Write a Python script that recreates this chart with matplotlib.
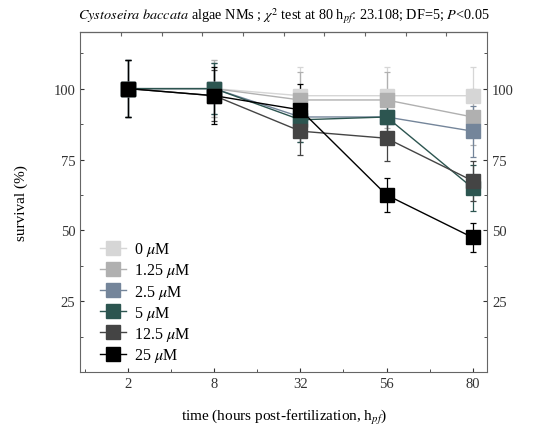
import matplotlib
matplotlib.use('Agg')
import matplotlib.pyplot as plt
from matplotlib.ticker import MultipleLocator
from matplotlib.lines import Line2D

plt.rcParams['font.family'] = ['Liberation Serif', 'DejaVu Serif']
plt.rcParams['mathtext.fontset'] = 'stix'

hours = ['2', '8', '32', '56', '80']
doses = ['0', '1.25', '2.5', '5', '12.5', '25']
colors = ['#d6d6d6', '#b0b0b0', '#74859a', '#2c5550', '#444444', '#000000']

surv_0 = [100, 100, 97.5, 97.5, 97.5]
surv_125 = [100, 100, 96, 96, 90]
surv_25 = [100, 100, 90, 90, 85]
surv_5 = [100, 100, 89, 90, 65]
surv_125b = [100, 97.5, 85, 82.5, 67.5]
surv_25b = [100, 97.5, 92.5, 62.5, 47.5]
survival = [surv_0, surv_125, surv_25, surv_5, surv_125b, surv_25b]

err_0 = [10, 10, 10, 10, 10]
err_125 = [10, 10, 10, 10, 10]
err_25 = [10, 9, 9, 9, 9]
err_5 = [10, 9, 8, 9, 8]
err_125b = [10, 9, 8.5, 8, 7]
err_25b = [10, 10, 9, 6, 5]
errors = [err_0, err_125, err_25, err_5, err_125b, err_25b]

fig = plt.figure(figsize=(5.53, 4.39), dpi=100)
ax = fig.add_axes([0.145, 0.150, 0.736, 0.775])

x = list(range(len(hours)))
handles = []
for d, c, s, e in zip(doses, colors, survival, errors):
    ax.errorbar(x, s, yerr=e, color=c, marker='s', markersize=10,
                linewidth=1.0, elinewidth=0.9, capsize=2, capthick=0.9)
    handles.append(Line2D([], [], color=c, marker='s', markersize=10,
                          linewidth=1.0, label=r'%s $\mu$M' % d))

ax.set_xlim(-0.56, 4.17)
ax.set_ylim(0, 120)
ax.set_xticks(x)
ax.set_xticklabels(hours)
ax.xaxis.set_minor_locator(MultipleLocator(0.5))
ax.yaxis.set_minor_locator(MultipleLocator(12.5))
ax.set_yticks([25, 50, 75, 100])
ax.tick_params(which='both', direction='in', right=True, labelright=True,
               labelsize=10.5, colors='#333333', length=3)
ax.tick_params(which='minor', length=2)

for sp in ax.spines.values():
    sp.set_color('#666666')

top = ax.secondary_xaxis('top')
top.set_xticks([-0.56 + i * 0.473 for i in range(1, 10)])
top.set_xticklabels([])
top.tick_params(direction='in', length=3, colors='#666666')

ax.set_ylabel('survival (%)', fontsize=11, labelpad=18)
ax.set_xlabel(r'time (hours post-fertilization, h$_{pf}$)', fontsize=11, labelpad=12)
ax.set_title(r'$\it{Cystoseira\ baccata}$ algae NMs ; $\chi^2$ test at 80 h$_{pf}$: 23.108; DF=5; $P$<0.05',
             fontsize=10.3, pad=9)

ax.legend(handles=handles, loc='lower left', frameon=False, fontsize=11.5,
          handlelength=1.6, borderaxespad=0.1, labelspacing=0.2,
          handletextpad=0.5, bbox_to_anchor=(0.03, 0.0))

fig.savefig('out.png', dpi=100)
